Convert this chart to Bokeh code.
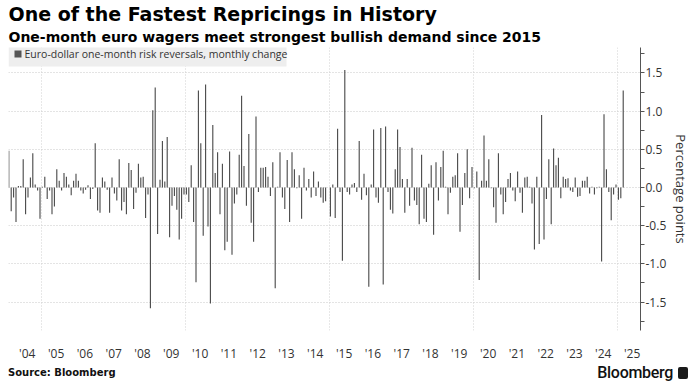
from bokeh.plotting import figure
from bokeh.layouts import column
from bokeh.models import (FixedTicker, Grid, Label, Title, Div, BoxAnnotation,
                          NumeralTickFormatter, Range1d, ColumnDataSource)
from bokeh.embed import file_html
from bokeh.resources import INLINE

# ---- data: monthly change of EUR/USD 1M risk reversals (pct points), Nov 2003 .. Mar 2025
start_year, start_month = 2003, 11
chg_2003_2006 = [0.48, -0.31,
                 -0.13, -0.45, 0.02, 0.02, 0.37, -0.35, -0.13, 0.13, 0.45, 0.04, -0.04, -0.41,
                 0.01, 0.14, -0.15, -0.04, -0.35, -0.25, 0.24, 0.09, -0.04, 0.19, 0.14, 0.04,
                 -0.10, 0.09, 0.18, 0.09, -0.04, -0.08, -0.03, 0.03, -0.15, -0.02, 0.58, -0.30]
chg_2007_2010 = [-0.33, 0.13, 0.08, -0.03, -0.33, 0.13, -0.08, -0.17, 0.37, -0.30, -0.19, -0.35,
                 0.32, 0.23, -0.28, -0.07, 0.31, 0.13, 0.14, -0.40, -0.09, -1.58, 1.01, 1.31,
                 -0.61, 0.10, 0.61, 0.08, 0.66, -0.65, -0.24, -0.11, -0.29, -0.68, -0.41, -0.09,
                 -0.09, -0.19, 0.29, -0.45, -1.24, 1.27, 0.58, -0.63, 1.35, -0.51, -1.52, 0.82]
chg_2011_2014 = [0.19, 0.46, -0.35, 0.31, -0.82, -0.71, 0.47, -0.88, -0.21, -0.09, 0.43, 1.20,
                 0.28, -0.24, 0.70, -0.46, -0.71, 0.93, -0.06, 0.26, 0.26, 0.27, 0.14, -0.11,
                 0.33, -1.32, 0.01, 0.46, -0.13, -0.28, 0.36, -0.45, 0.46, 0.24, -0.01, 0.16,
                 -0.41, 0.26, -0.04, 0.11, -0.13, 0.21, -0.11, 0.08, -0.13, -0.20, -0.18, 0.00]
chg_2015_2018 = [-0.38, 0.04, -0.40, 0.77, -0.06, -0.96, 1.54, -0.06, -0.09, 0.04, 0.06, -0.06,
                 0.61, -0.16, 0.18, -0.10, -1.30, 0.04, 0.76, -0.13, -0.20, 0.78, -1.27, 0.80,
                 -0.06, -0.29, -0.34, 0.24, 0.76, 0.53, 0.11, -0.33, 0.11, -0.24, 0.52, -0.17,
                 -0.23, -0.48, 0.43, -0.41, -0.45, 0.05, 0.29, -0.62, 0.33, -0.17, 0.27, 0.48]
chg_2019_2022 = [0.01, -0.35, -0.07, 0.14, 0.16, 0.45, -0.58, -0.23, 0.19, 0.50, -0.14, 0.27,
                 -0.01, 0.21, -1.21, 0.09, 0.68, 0.09, 0.37, -0.01, -0.26, -0.46, 0.45, -0.09,
                 -0.35, -0.19, 0.11, 0.19, -0.04, -0.18, 0.21, -0.07, -0.33, 0.13, 0.14, 0.01,
                 -0.21, -0.81, 0.14, -0.74, 0.95, -0.68, -0.15, 0.37, -0.48, 0.51, 0.29, 0.39]
chg_2023_2025 = [-0.14, 0.14, 0.11, 0.12, -0.04, -0.06, 0.13, -0.12, -0.11, 0.09, 0.09, 0.14,
                 -0.08, 0.01, -0.09, -0.01, 0.01, -0.97, 0.96, 0.24, -0.06, -0.43, -0.09, 0.04,
                 -0.16, -0.14, 1.27]

series_name = "Euro-dollar one-month risk reversals, monthly change"
tick_years = list(range(2004, 2026))
tick_labels = ["'04", "'05", "'06", "'07", "'08", "'09", "'10", "'11", "'12", "'13", "'14",
               "'15", "'16", "'17", "'18", "'19", "'20", "'21", "'22", "'23", "'24", "'25"]
grid_years = [2005, 2010, 2015, 2020, 2025]
y_major = [-1.5, -1.0, -0.5, 0.0, 0.5, 1.0, 1.5]
y_minor = [-1.75, -1.25, -0.75, -0.25, 0.25, 0.75, 1.25, 1.75]

values = chg_2003_2006 + chg_2007_2010 + chg_2011_2014 + chg_2015_2018 + chg_2019_2022 + chg_2023_2025
xs = []
for i in range(len(values)):
    m = start_month - 1 + i
    yr = start_year + m // 12
    mo = m % 12 + 1
    xs.append(yr + (mo - 0.7) / 12.0)

src = ColumnDataSource(dict(x=xs, top=values))

TICK_FONT = "Open Sans"
BAR_COLOR = "#474747"
p = figure(width=694, height=364, output_backend="svg", toolbar_location=None,
           x_range=Range1d(2003.848, 2025.792), y_range=Range1d(-1.872, 1.833),
           y_axis_location="right",
           min_border_left=8, min_border_right=54, min_border_top=44, min_border_bottom=31)
p.outline_line_color = None
p.background_fill_color = "white"
p.border_fill_color = "white"

r = p.vbar(x="x", top="top", bottom=0, width=1.1 / 28.8, source=src,
           fill_color=BAR_COLOR, line_color=None)

# grids
p.xgrid.visible = False
p.ygrid.grid_line_color = "#c8c8c8"
p.ygrid.grid_line_dash = "1 2"
p.add_layout(Grid(dimension=0, ticker=FixedTicker(ticks=grid_years),
                  grid_line_color="#d0d0d0", grid_line_dash="1 2"))

# x axis
xa = p.xaxis[0]
xa.ticker = FixedTicker(ticks=[y + 0.5 for y in tick_years])
xa.major_label_overrides = {y + 0.5: lab for y, lab in zip(tick_years, tick_labels)}
xa.axis_line_color = None
xa.major_tick_line_color = None
xa.minor_tick_line_color = None
xa.major_tick_out = 0
xa.major_label_standoff = 14
xa.major_label_text_font = TICK_FONT
xa.major_label_text_font_size = "12px"
xa.major_label_text_color = "#333333"

# y axis (right)
ya = p.yaxis[0]
ya.ticker = FixedTicker(ticks=y_major, minor_ticks=y_minor)
ya.formatter = NumeralTickFormatter(format="0.0")
ya.axis_line_color = "#555555"
ya.major_tick_line_color = "#555555"
ya.minor_tick_line_color = "#555555"
ya.major_tick_in = 0
ya.major_tick_out = 4
ya.minor_tick_in = 0
ya.minor_tick_out = 4
ya.major_label_standoff = 1
ya.major_label_text_font = TICK_FONT
ya.major_label_text_font_size = "12px"
ya.major_label_text_color = "#333333"
ya.axis_label = "Percentage points"
ya.axis_label_standoff = 3
ya.axis_label_text_font = TICK_FONT
ya.axis_label_text_font_size = "13px"
ya.axis_label_text_font_style = "normal"
ya.axis_label_text_color = "#333333"

# key box (top-left inside the frame; screen units from frame bottom-left)
FRAME_H = 364 - 44 - 31
p.add_layout(BoxAnnotation(left=0, right=278, top=FRAME_H, bottom=FRAME_H - 25,
                           left_units="screen", right_units="screen",
                           top_units="screen", bottom_units="screen",
                           fill_color="#eeeeee", fill_alpha=1.0, line_color=None))
p.add_layout(BoxAnnotation(left=6, right=13, top=FRAME_H - 9, bottom=FRAME_H - 16,
                           left_units="screen", right_units="screen",
                           top_units="screen", bottom_units="screen",
                           fill_color="#555555", fill_alpha=1.0, line_color=None))
p.add_layout(Label(x=16, y=FRAME_H - 12.5, x_units="screen", y_units="screen",
                   text=series_name, text_font=TICK_FONT, text_font_size="10.5px",
                   text_color="#333333", text_baseline="middle", text_align="left"))

# titles (subtitle first -> nearer frame)
p.add_layout(Title(text="One-month euro wagers meet strongest bullish demand since 2015",
                   text_font="DejaVu Sans", text_font_size="14px", text_font_style="bold",
                   text_color="#000000", standoff=5, offset=0, align="left"), "above")
p.add_layout(Title(text="One of the Fastest Repricings in History",
                   text_font="DejaVu Sans", text_font_size="19px", text_font_style="bold",
                   text_color="#000000", standoff=0, offset=0, align="left"), "above")

footer = Div(
    text=('<div style="display:flex;justify-content:space-between;align-items:center;'
          'width:686px;height:16px;margin-left:8px;">'
          '<span style="font-family:\'DejaVu Sans\';font-weight:bold;font-size:10px;color:#111;">'
          'Source: Bloomberg</span>'
          '<span style="font-family:Roboto;font-weight:500;font-size:16px;color:#111;'
          'letter-spacing:-0.3px;display:flex;align-items:center;">Bloomberg'
          '<span style="display:inline-block;width:10px;height:12px;background:#1a1a1a;'
          'border-radius:2px;margin-left:5px;margin-right:6px;"></span></span></div>'),
    width=694, height=16, margin=0)

layout = column(p, footer, spacing=0)
open("out.html", "w").write(file_html(layout, INLINE))
